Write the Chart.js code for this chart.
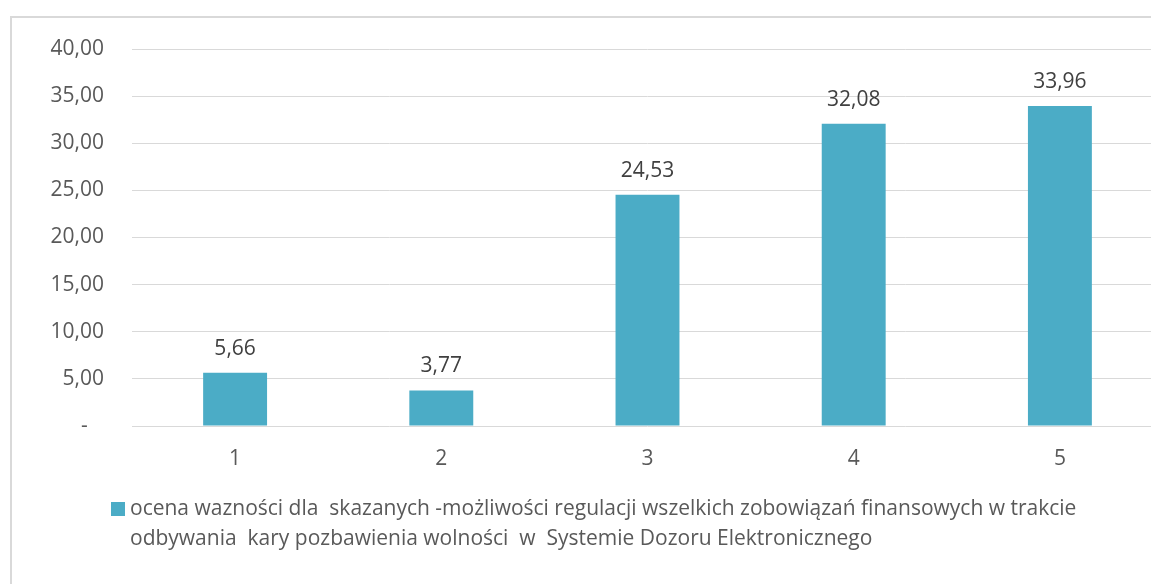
<!DOCTYPE html>
<html lang="pl">
<head>
<meta charset="utf-8">
<title>Ocena ważności</title>
<script src="https://cdn.jsdelivr.net/npm/chart.js@4.4.1/dist/chart.umd.min.js"></script>
<style>
  html, body { margin: 0; padding: 0; background: #fff; overflow: hidden; }
  #frame { position: absolute; left: 10px; top: 16px; width: 1300px; height: 700px; border: 2px solid #d9d9d9; box-sizing: border-box; }
  #wrap { position: absolute; left: 0; top: 0; }
</style>
</head>
<body>
<div id="frame"></div>
<div id="wrap"><canvas id="chart-oceny" width="1163" height="584"></canvas></div>
<script>
(function () {
  'use strict';

  var CATEGORIES = ['1', '2', '3', '4', '5'];
  var VALUES = [5.66, 3.77, 24.53, 32.08, 33.96];
  var Y_MIN = 0;
  var Y_MAX = 40;
  var Y_STEP = 5;
  var SERIES_LINES = [
    'ocena wazności dla  skazanych -możliwości regulacji wszelkich zobowiązań finansowych w trakcie',
    'odbywania  kary pozbawienia wolności  w  Systemie Dozoru Elektronicznego'
  ];

  var BAR_COLOR = '#4bacc6';
  var FONT_FAMILY = "'Open Sans', sans-serif";
  var NUM_SIZE = 21;
  var LEGEND_SIZE = 21;

  function fmt(v) {
    return v.toFixed(2).replace('.', ',');
  }

  // value above each bar
  var valueLabels = {
    id: 'valueLabels',
    afterDatasetsDraw: function (chart) {
      var ctx = chart.ctx;
      var meta = chart.getDatasetMeta(0);
      var data = chart.data.datasets[0].data;
      ctx.save();
      ctx.font = NUM_SIZE + 'px ' + FONT_FAMILY;
      ctx.fillStyle = '#404040';
      ctx.textAlign = 'center';
      ctx.textBaseline = 'alphabetic';
      meta.data.forEach(function (bar, i) {
        ctx.fillText(fmt(data[i]), bar.x, bar.y - 18);
      });
      ctx.restore();
    }
  };

  // legend with wrapped series name
  var wrappedLegend = {
    id: 'wrappedLegend',
    afterDraw: function (chart) {
      var ctx = chart.ctx;
      var ds = chart.data.datasets[0];
      ctx.save();
      ctx.fillStyle = ds.backgroundColor;
      ctx.fillRect(111, 502, 14, 14);
      ctx.font = LEGEND_SIZE + 'px ' + FONT_FAMILY;
      ctx.fillStyle = '#595959';
      ctx.textAlign = 'left';
      ctx.textBaseline = 'alphabetic';
      SERIES_LINES.forEach(function (line, i) {
        ctx.fillText(line, 130, 515 + i * 30);
      });
      ctx.restore();
    }
  };

  new Chart(document.getElementById('chart-oceny').getContext('2d'), {
    type: 'bar',
    data: {
      labels: CATEGORIES,
      datasets: [{
        label: SERIES_LINES.join(' '),
        data: VALUES,
        backgroundColor: BAR_COLOR,
        borderWidth: 0,
        categoryPercentage: 1,
        barPercentage: 0.31
      }]
    },
    options: {
      responsive: false,
      animation: false,
      layout: { padding: { top: 49, left: 0, right: 0, bottom: 0 } },
      plugins: {
        legend: { display: false },
        tooltip: { enabled: false }
      },
      scales: {
        x: {
          grid: { display: false, drawTicks: false },
          border: { display: false },
          ticks: { padding: 20, color: '#595959', font: { family: FONT_FAMILY, size: NUM_SIZE } },
          afterFit: function (s) { s.height = 158; }
        },
        y: {
          min: Y_MIN,
          max: Y_MAX,
          grid: { color: '#d9d9d9', lineWidth: 1, drawTicks: false },
          border: { display: false },
          ticks: {
            stepSize: Y_STEP,
            padding: 28,
            color: '#595959',
            font: { family: FONT_FAMILY, size: NUM_SIZE },
            callback: function (v) { return v === 0 ? '-   ' : fmt(v); }
          },
          afterFit: function (s) { s.width = 132; }
        }
      }
    },
    plugins: [valueLabels, wrappedLegend]
  });
})();
</script>
</body>
</html>
